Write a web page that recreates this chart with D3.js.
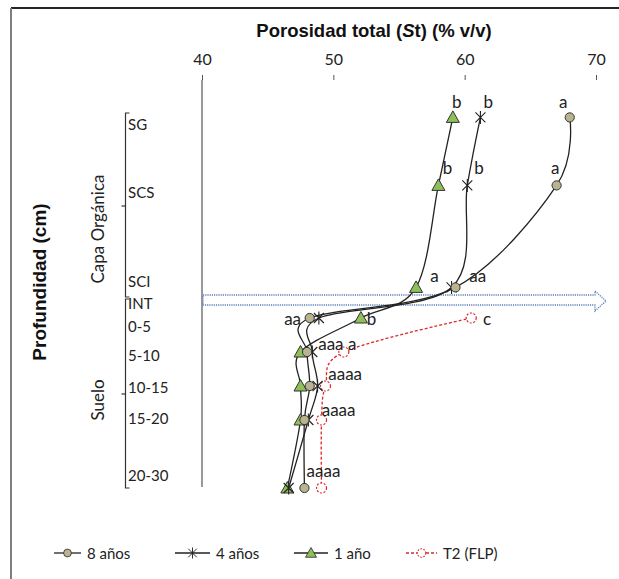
<!DOCTYPE html>
<html>
<head>
<meta charset="utf-8">
<script src="https://cdn.jsdelivr.net/npm/d3@7"></script>
<style>
  html, body { margin: 0; padding: 0; background: #fff; }
  svg { display: block; }
</style>
</head>
<body>
<svg id="chart" width="619" height="579"></svg>
<script>
// Depth rows (cm; organic layer above the soil surface is negative)
const rows = ["SG", "SCS", "SCI", "0-5", "5-10", "10-15", "15-20", "20-30"];
const rowDepths = [-27, -17, -2, 2.5, 7.5, 12.5, 17.5, 27.5];

// Category tick labels on the depth axis and where they sit (depth units)
const depthLabels = ["SG", "SCS", "SCI", "INT", "0-5", "5-10", "10-15", "15-20", "20-30"];
const depthLabelAt = [-26, -16, -2.9, 0.3, 3.7, 8, 12.6, 17.2, 25.6];

// Total porosity (% v/v) by depth row
const anios8 = [68.0, 67.0, 59.3, 48.2, 48.0, 48.2, 47.8, 47.8];
const anios4 = [61.2, 60.2, 59.0, 48.9, 48.4, 48.8, 48.1, 46.6];
const anio1  = [59.1, 58.0, 56.3, 52.1, 47.5, 47.5, 47.5, 46.5];
// Reference plot T2 (FLP): soil rows only
const t2Rows = ["0-5", "5-10", "10-15", "15-20", "20-30"];
const t2FLP  = [60.5, 50.8, 49.4, 49.1, 49.1];

const xTicks = [40, 50, 60, 70];

// Significance letters: text, porosity value, depth
const letters = [
  ["b", 59.4, -29.3], ["b", 61.8, -29.3], ["a", 67.5, -29.3],
  ["b", 58.7, -19.6], ["b", 61.1, -19.6], ["a", 66.9, -19.6],
  ["a", 57.7, -3.8], ["aa", 61.0, -3.8],
  ["aa", 46.9, 2.5], ["b", 52.9, 2.5], ["c", 61.7, 2.5],
  ["aaa a", 50.3, 6.2],
  ["aaaa", 50.9, 10.6],
  ["aaaa", 50.4, 15.9],
  ["aaaa", 49.25, 24.9]
];

const svg = d3.select("#chart");
const FONT = "Lato, 'Open Sans', sans-serif";
const BOLD = "'Liberation Sans', Arial, sans-serif";

// Scales
const x = d3.scaleLinear().domain([40, 70]).range([202, 596]);
const y = d3.scaleLinear().domain([-32.5, 27.5]).range([80, 488]);

// Outer frame
svg.append("line").attr("x1", 11).attr("x2", 619).attr("y1", 8).attr("y2", 8)
  .attr("stroke", "#262626").attr("stroke-width", 2);
svg.append("line").attr("x1", 11).attr("x2", 11).attr("y1", 8).attr("y2", 579)
  .attr("stroke", "#7f7f7f").attr("stroke-width", 2);

// Title
const title = svg.append("text").attr("x", 374).attr("y", 37)
  .attr("text-anchor", "middle").attr("font-family", BOLD)
  .attr("font-weight", "bold").attr("font-size", 18.5).attr("fill", "#111");
title.append("tspan").text("Porosidad total (");
title.append("tspan").attr("font-style", "italic").text("S");
title.append("tspan").text("t) (% v/v)");

// Top value axis (tick marks and labels only)
const xAxis = d3.axisTop(x).tickValues(xTicks).tickSize(5).tickPadding(10).tickFormat(d3.format("d"));
const gx = svg.append("g").attr("transform", "translate(0,80)").call(xAxis);
gx.select(".domain").remove();
gx.selectAll(".tick line").attr("stroke", "#555");
gx.selectAll(".tick text").attr("font-family", FONT).attr("font-size", 16).attr("fill", "#222");

// Vertical axis line at 40
svg.append("line").attr("x1", x(40)).attr("x2", x(40)).attr("y1", 80).attr("y2", 487)
  .attr("stroke", "#777").attr("stroke-width", 1.5);

// Dotted interface arrow at INT
const ay = y(0) - 1;
const arrowPath = d3.path();
arrowPath.moveTo(x(40) + 1, ay - 5);
arrowPath.lineTo(595, ay - 5);
arrowPath.lineTo(595, ay - 9);
arrowPath.lineTo(606, ay + 1);
arrowPath.lineTo(595, ay + 11);
arrowPath.lineTo(595, ay + 5);
arrowPath.lineTo(x(40) + 1, ay + 5);
arrowPath.closePath();
svg.append("path").attr("d", arrowPath.toString()).attr("fill", "none")
  .attr("stroke", "#5b7fb8").attr("stroke-width", 1.3).attr("stroke-dasharray", "1.2,1");

// Left grouped category axis
const bx = 125.5;
const brackets = svg.append("g").attr("stroke", "#333").attr("stroke-width", 1.2).attr("fill", "none");
brackets.append("path").attr("d", `M${bx + 4},113 H${bx} V297 H${bx + 4}`);
brackets.append("path").attr("d", `M${bx + 4},299 H${bx} V488 H${bx + 4}`);
brackets.append("line").attr("x1", bx - 4).attr("x2", bx).attr("y1", 206).attr("y2", 206);
brackets.append("line").attr("x1", bx - 4).attr("x2", bx).attr("y1", 394).attr("y2", 394);

svg.append("g").selectAll("text").data(depthLabels).join("text")
  .attr("x", 128).attr("y", (d, i) => y(depthLabelAt[i]))
  .attr("dominant-baseline", "central")
  .attr("font-family", FONT).attr("font-size", 15).attr("fill", "#222")
  .text(d => d);

// Group labels
[["Capa Orgánica", 229], ["Suelo", 400]].forEach(([t, cy]) => {
  svg.append("text").attr("transform", `translate(97,${cy}) rotate(-90)`)
    .attr("text-anchor", "middle").attr("dominant-baseline", "central")
    .attr("font-family", FONT).attr("font-size", 17).attr("fill", "#222").text(t);
});

// Depth axis title
svg.append("text").attr("transform", "translate(39,282) rotate(-90)")
  .attr("text-anchor", "middle").attr("dominant-baseline", "central")
  .attr("font-family", BOLD).attr("font-weight", "bold").attr("font-size", 19)
  .attr("fill", "#111").text("Profundidad (cm)");

// Marker drawing helpers
function drawMarker(g, type) {
  if (type === "circle") {
    g.append("circle").attr("r", 4.6).attr("fill", "#b9b38f").attr("stroke", "#333").attr("stroke-width", 1);
  } else if (type === "star") {
    g.append("path").attr("d", "M-5,-5L5,5M-5,5L5,-5M0,-6.5L0,6.5")
      .attr("stroke", "#222").attr("stroke-width", 1.1).attr("fill", "none");
  } else if (type === "triangle") {
    g.append("path").attr("d", "M0,-6.5L6.5,5L-6.5,5Z")
      .attr("fill", "#8dc05a").attr("stroke", "#333").attr("stroke-width", 1);
  } else if (type === "open") {
    g.append("circle").attr("r", 5).attr("fill", "#fff").attr("stroke", "#e0252b")
      .attr("stroke-width", 1.2).attr("stroke-dasharray", "2,1.6");
  }
}

const series = [
  { name: "8 años", values: anios8, rows: rows, marker: "circle", color: "#222", dash: null },
  { name: "4 años", values: anios4, rows: rows, marker: "star", color: "#222", dash: null },
  { name: "1 año", values: anio1, rows: rows, marker: "triangle", color: "#222", dash: null },
  { name: "T2 (FLP)", values: t2FLP, rows: t2Rows, marker: "open", color: "#e0252b", dash: "3,2" }
];

const line = d3.line()
  .x(d => x(d.v))
  .y(d => y(d.depth))
  .curve(d3.curveCardinal.tension(0));

series.forEach(s => {
  const pts = s.values.map((v, i) => ({ v, depth: rowDepths[rows.indexOf(s.rows[i])] }));
  s.pts = pts;
  svg.append("path").datum(pts).attr("d", line)
    .attr("fill", "none").attr("stroke", s.color).attr("stroke-width", 1.3)
    .attr("stroke-dasharray", s.dash);
});

series.slice().reverse().forEach(s => {
  s.pts.forEach(p => {
    const g = svg.append("g").attr("transform", `translate(${x(p.v)},${y(p.depth)})`);
    drawMarker(g, s.marker);
  });
});

// Significance letters
svg.append("g").selectAll("text").data(letters).join("text")
  .attr("x", d => x(d[1])).attr("y", d => y(d[2]))
  .attr("text-anchor", "middle").attr("dominant-baseline", "central")
  .attr("font-family", FONT).attr("font-size", 17).attr("fill", "#222")
  .text(d => d[0]);

// Legend
const legendX = [54, 175, 294, 406];
const legendW = [27, 35, 34, 31];
series.forEach((s, i) => {
  const g = svg.append("g").attr("transform", `translate(${legendX[i]},553)`);
  g.append("line").attr("x1", 0).attr("x2", legendW[i]).attr("y1", 0).attr("y2", 0)
    .attr("stroke", s.color).attr("stroke-width", 1.3).attr("stroke-dasharray", s.dash);
  const m = g.append("g").attr("transform", `translate(${legendW[i] / 2},0) scale(0.85)`);
  drawMarker(m, s.marker);
  g.append("text").attr("x", legendW[i] + 6).attr("y", 0).attr("dominant-baseline", "central")
    .attr("font-family", FONT).attr("font-size", 15).attr("fill", "#222").text(s.name);
});
</script>
</body>
</html>
